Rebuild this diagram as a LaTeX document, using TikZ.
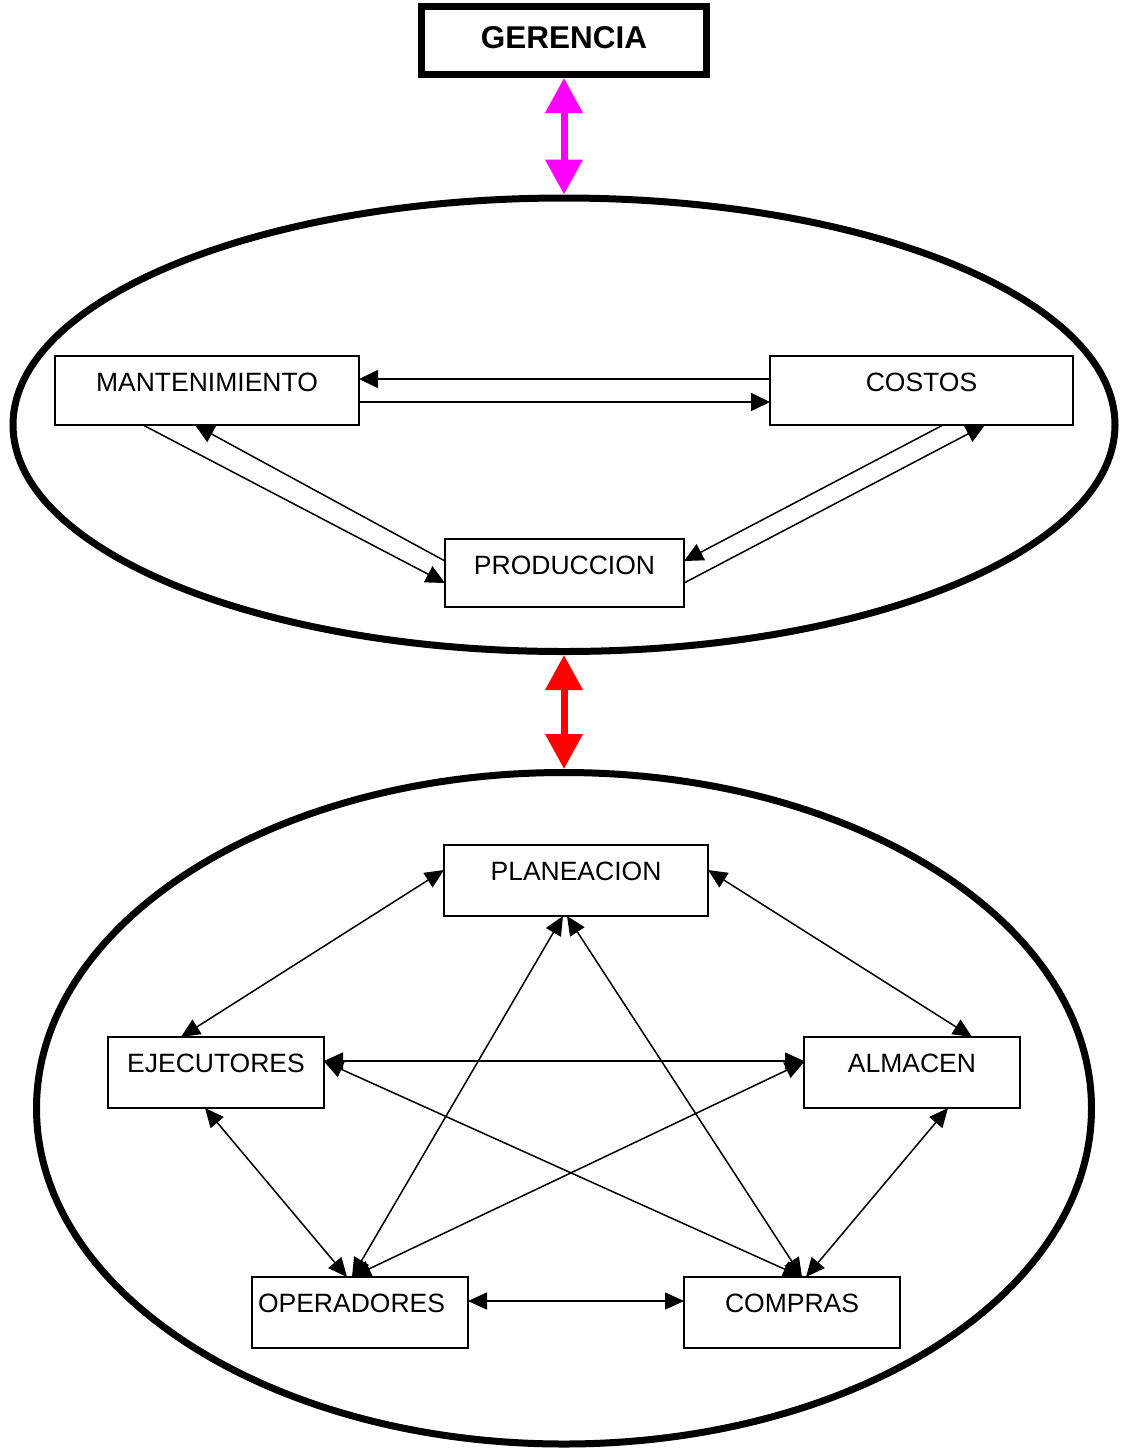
\documentclass[tikz,border=0pt]{standalone}
\usepackage{fontspec}
\setmainfont{Liberation Sans}
\usetikzlibrary{arrows.meta,shapes.geometric}
\definecolor{linkmagenta}{RGB}{255,0,255}
\definecolor{linkred}{RGB}{255,0,0}
\begin{document}
\begin{tikzpicture}[x=1pt,y=-1pt,
  unitbox/.style={draw,line width=1.5pt,inner sep=0pt,outer sep=0pt,align=center,
    font=\fontsize{26.5}{30}\selectfont,text height=35pt},
  ring/.style={ellipse,draw,line width=7pt,inner sep=0pt},
  flow/.style={line width=1.5pt,-{Triangle[length=19pt,width=18pt]}},
  link/.style={line width=1.5pt,{Triangle[length=19pt,width=17pt]}-{Triangle[length=19pt,width=17pt]}},
  bigarrow/.style={line width=7pt,{Triangle[length=35pt,width=36pt]}-{Triangle[length=35pt,width=36pt]}}]
\useasboundingbox (0,0) rectangle (1123,1452);

% management box
\node[draw,line width=7pt,inner sep=0pt,align=center,text width=285pt,
  text height=41.5pt,text depth=26.5pt,font=\fontsize{31.5}{34}\selectfont\bfseries]
  (ger) at (564,40.5) {GERENCIA};

% the two groups
\node[ring,minimum width=1102pt,minimum height=453.5pt] (top) at (564,424.75) {};
\node[ring,minimum width=1055pt,minimum height=671.5pt] (low) at (564,1108.25) {};

% upper group
\node[unitbox,text width=304pt,text depth=34pt] (mant) at (207,390.5) {MANTENIMIENTO};
\node[unitbox,text width=303pt,text depth=34pt] (cost) at (921.5,390.5) {COSTOS};
\node[unitbox,text width=239pt,text depth=33pt] (prod) at (564.5,573) {PRODUCCION};

% lower group
\node[unitbox,text width=264pt,text depth=36pt] (plan) at (576,880.5) {PLANEACION};
\node[unitbox,text width=216pt,text depth=36pt] (ejec) at (216,1072.5) {EJECUTORES};
\node[unitbox,text width=216pt,text depth=36pt] (alm) at (912,1072.5) {ALMACEN};
\node[unitbox,text width=204pt,text depth=36pt,align=left,inner xsep=6pt] (oper) at (360,1312.5) {OPERADORES};
\node[unitbox,text width=216pt,text depth=36pt] (comp) at (792,1312.5) {COMPRAS};

% links between levels
\draw[bigarrow,linkmagenta] (ger.south) -- (top.north);
\draw[bigarrow,linkred] (top.south) -- (low.north);

% upper flows
\draw[flow] ([yshift=11.5pt]cost.west) -- ([yshift=11.5pt]mant.east);
\draw[flow] ([yshift=-11.5pt]mant.east) -- ([yshift=-11.5pt]cost.west);
\draw[flow] ([xshift=88pt]mant.south west) -- ([yshift=-10pt]prod.west);
\draw[flow] ([yshift=12pt]prod.west) -- ([xshift=140pt]mant.south west);
\draw[flow] ([xshift=173pt]cost.south west) -- ([yshift=12pt]prod.east);
\draw[flow] ([yshift=-10pt]prod.east) -- ([xshift=215pt]cost.south west);

% lower links
\draw[link] ([yshift=10.5pt]plan.west) -- ([xshift=73pt]ejec.north west);
\draw[link] ([yshift=10.5pt]plan.east) -- ([xshift=168pt]alm.north west);
\draw[link] ([yshift=11.5pt]ejec.east) -- ([yshift=11.5pt]alm.west);
\draw[link] ([yshift=11pt]ejec.east) -- ([xshift=118pt]comp.north west);
\draw[link] ([yshift=10.5pt]alm.west) -- ([xshift=100pt]oper.north west);
\draw[link] ([xshift=119pt]plan.south west) -- ([xshift=100pt]oper.north west);
\draw[link] ([xshift=123pt]plan.south west) -- ([xshift=118pt]comp.north west);
\draw[link] ([xshift=97pt]ejec.south west) -- ([xshift=95pt]oper.north west);
\draw[link] ([xshift=144pt]alm.south west) -- ([xshift=122pt]comp.north west);
\draw[link] ([yshift=11.5pt]oper.east) -- ([yshift=11.5pt]comp.west);
\end{tikzpicture}
\end{document}
